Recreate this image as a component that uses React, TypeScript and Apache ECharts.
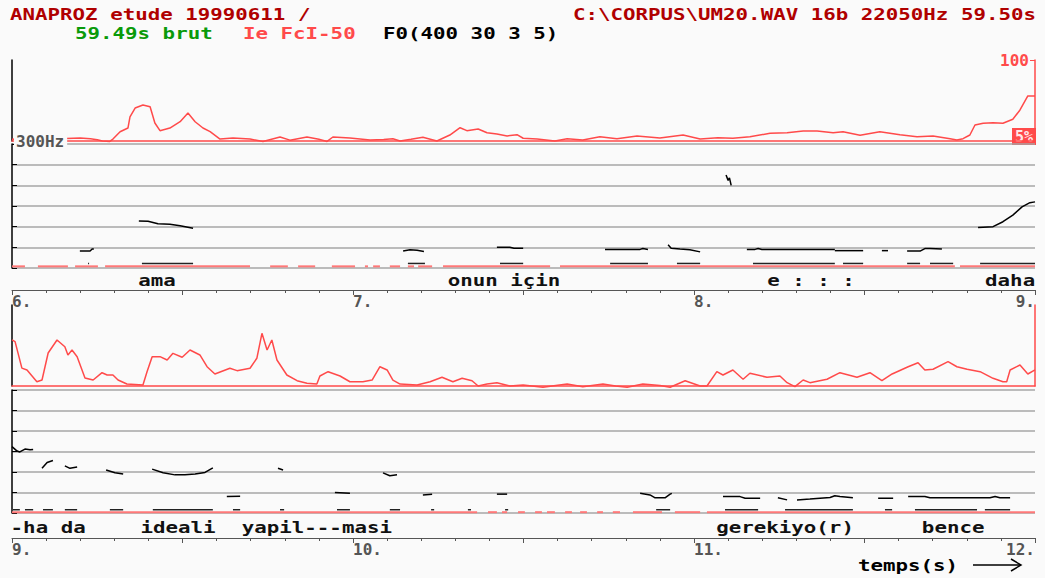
import React, { useEffect, useRef } from 'react';
import * as echarts from 'echarts';

type Pt = [number, number];

// ---------- texts ----------
const TITLE_LEFT = 'ANAPROZ etude 19990611 /';
const TITLE_RIGHT = 'C:\\CORPUS\\UM20.WAV 16b 22050Hz 59.50s';
const SUB_DURATION = '59.49s brut';
const SUB_INTENSITY = 'Ie FcI-50';
const SUB_F0 = 'F0(400 30 3 5)';
const AXIS_TITLE = 'temps(s)';
const F0_LABEL = '300Hz';
const INT_MAX_LABEL = '100';
const INT_MIN_LABEL = '5%';

// ---------- scales ----------
const TOP_SPAN: Pt = [6, 9];
const BOTTOM_SPAN: Pt = [9, 12];
const INTENSITY_RANGE: Pt = [5, 100];
const F0_RANGE: Pt = [0, 300];
const F0_STEP = 50;
const TIME_STEP = 0.5;

// ---------- intensity (%), [time s, value] ----------
const topIntensity: Pt[] = [
  [6.0, 7.0], [6.04, 7.5], [6.08, 8.0], [6.12, 9.0], [6.16, 8.0], [6.2, 8.5], [6.23, 7.5], [6.25, 6.5],
  [6.265, 5.0], [6.287, 4.5], [6.296, 7.3], [6.317, 15.9], [6.34, 20.2], [6.346, 33.2], [6.361, 43.7],
  [6.384, 47.2], [6.405, 45.2], [6.419, 26.1], [6.434, 17.1], [6.463, 20.2], [6.493, 27.6], [6.516, 37.8],
  [6.537, 27.6], [6.56, 20.2], [6.581, 15.9], [6.61, 7.3], [6.648, 8.5], [6.698, 7.3], [6.736, 4.5],
  [6.786, 9.7], [6.815, 6.0], [6.865, 9.7], [6.9, 7.0], [6.924, 4.5], [6.941, 9.7], [6.991, 8.5],
  [7.05, 6.2], [7.09, 6.8], [7.117, 7.7], [7.138, 5.0], [7.17, 7.0], [7.205, 9.3], [7.246, 5.0],
  [7.284, 12.0], [7.314, 20.6], [7.334, 17.1], [7.367, 19.1], [7.393, 14.7], [7.422, 13.2], [7.452, 10.9],
  [7.481, 12.4], [7.499, 8.2], [7.54, 7.3], [7.592, 5.0], [7.628, 7.7], [7.674, 6.2], [7.724, 10.0],
  [7.774, 7.7], [7.833, 10.9], [7.9, 8.5], [7.968, 12.0], [8.018, 7.3], [8.07, 8.8], [8.114, 8.2],
  [8.164, 10.0], [8.223, 14.0], [8.273, 14.7], [8.32, 16.7], [8.361, 16.7], [8.408, 14.7], [8.437, 15.9],
  [8.487, 11.7], [8.545, 15.9], [8.604, 12.4], [8.654, 10.0], [8.701, 10.9], [8.751, 7.7], [8.771, 6.2],
  [8.789, 7.7], [8.809, 12.0], [8.824, 23.8], [8.848, 25.8], [8.877, 26.5], [8.906, 25.8], [8.935, 30.5],
  [8.956, 41.4], [8.979, 57.8], [9.0, 57.8],
];

const bottomIntensity: Pt[] = [
  [9.0, 59.0], [9.009, 57.0], [9.029, 26.0], [9.044, 23.8], [9.073, 10.0], [9.088, 12.0], [9.106, 43.7],
  [9.132, 59.0], [9.155, 51.0], [9.164, 41.4], [9.176, 47.2], [9.191, 39.4], [9.214, 14.4], [9.238, 12.0],
  [9.264, 20.6], [9.279, 17.9], [9.296, 17.9], [9.311, 12.0], [9.337, 7.3], [9.384, 6.2], [9.396, 21.8],
  [9.411, 39.4], [9.434, 39.4], [9.455, 35.5], [9.472, 43.3], [9.499, 38.7], [9.522, 47.2], [9.551, 41.4],
  [9.572, 27.6], [9.595, 19.1], [9.639, 25.8], [9.66, 23.0], [9.698, 25.8], [9.718, 37.5], [9.733, 66.8],
  [9.748, 47.2], [9.762, 59.0], [9.777, 35.5], [9.806, 17.9], [9.836, 11.2], [9.865, 8.2], [9.894, 7.3],
  [9.903, 16.7], [9.927, 21.8], [9.962, 16.7], [9.991, 10.0], [10.029, 10.0], [10.056, 12.0], [10.079, 27.6],
  [10.1, 23.8], [10.117, 12.0], [10.138, 7.3], [10.188, 6.2], [10.226, 10.0], [10.261, 15.2], [10.293, 10.0],
  [10.32, 14.0], [10.349, 11.2], [10.367, 5.0], [10.393, 7.3], [10.422, 8.9], [10.46, 5.0], [10.499, 6.2],
  [10.557, 3.5], [10.6, 6.0], [10.628, 7.3], [10.674, 4.2], [10.733, 7.3], [10.77, 5.0], [10.804, 3.5],
  [10.85, 7.3], [10.9, 5.5], [10.93, 3.5], [10.974, 11.2], [11.018, 5.0], [11.038, 5.0], [11.067, 21.8],
  [11.085, 17.9], [11.114, 23.8], [11.144, 12.9], [11.164, 19.9], [11.214, 15.2], [11.252, 16.7],
  [11.273, 8.9], [11.296, 4.2], [11.32, 12.0], [11.34, 8.9], [11.39, 12.9], [11.428, 20.6], [11.478, 15.2],
  [11.516, 20.6], [11.551, 11.2], [11.581, 19.1], [11.628, 27.6], [11.657, 32.3], [11.677, 23.8],
  [11.701, 24.6], [11.745, 33.5], [11.771, 27.6], [11.801, 24.6], [11.839, 21.8], [11.877, 14.0],
  [11.906, 10.0], [11.917, 10.0], [11.927, 23.8], [11.956, 29.6], [11.979, 19.1], [12.0, 23.8],
];

// ---------- F0 (Hz) segments, [time s, Hz] ----------
const topF0Segments: Pt[][] = [
  [[6.199, 41], [6.229, 41], [6.235, 46], [6.24, 46]],
  [[6.372, 114], [6.399, 113], [6.428, 107], [6.463, 106], [6.493, 102], [6.531, 96]],
  [[7.147, 41], [7.167, 44], [7.188, 43], [7.208, 40]],
  [[7.422, 50], [7.46, 50], [7.472, 48], [7.499, 48]],
  [[7.739, 45], [7.842, 45], [7.85, 47], [7.865, 45]],
  [[7.924, 56], [7.933, 48], [7.959, 46], [7.988, 44], [8.018, 39]],
  [[8.094, 225], [8.1, 212], [8.104, 218], [8.109, 200]],
  [[8.155, 45], [8.179, 45], [8.188, 47], [8.199, 45], [8.413, 45]],
  [[8.413, 42], [8.496, 42]],
  [[8.551, 42], [8.569, 42]],
  [[8.625, 41], [8.663, 41], [8.677, 47], [8.692, 47], [8.727, 46]],
  [[8.833, 98], [8.877, 100], [8.906, 112], [8.935, 128], [8.962, 148], [8.985, 158], [9.0, 160]],
];

const bottomF0Segments: Pt[][] = [
  [[9.0, 162], [9.015, 151], [9.023, 149], [9.038, 156], [9.053, 154], [9.062, 155]],
  [[9.088, 109], [9.103, 123], [9.12, 128]],
  [[9.155, 115], [9.17, 109], [9.191, 112]],
  [[9.276, 105], [9.302, 98], [9.326, 95]],
  [[9.411, 107], [9.443, 98], [9.478, 93], [9.507, 93], [9.537, 95], [9.566, 99], [9.589, 110]],
  [[9.63, 40], [9.669, 41]],
  [[9.78, 109], [9.795, 105]],
  [[9.947, 50], [9.991, 48]],
  [[10.088, 98], [10.108, 91], [10.129, 93]],
  [[10.205, 44], [10.232, 46]],
  [[10.422, 46], [10.452, 46]],
  [[10.842, 48], [10.871, 44], [10.886, 37], [10.915, 37], [10.93, 46], [10.935, 48]],
  [[11.085, 40], [11.135, 40], [11.15, 36], [11.194, 36]],
  [[11.246, 37], [11.273, 32]],
  [[11.302, 32], [11.34, 34], [11.399, 38], [11.413, 42], [11.428, 40], [11.466, 37]],
  [[11.54, 36], [11.584, 36]],
  [[11.628, 40], [11.677, 40], [11.692, 37], [11.868, 37], [11.883, 40], [11.897, 37], [11.927, 37]],
];

// ---------- low secondary trace: [start s, end s] at a fixed level (Hz) ----------
const TOP_LOW_TRACE_HZ = 11;
const BOTTOM_LOW_TRACE_HZ = 8;
const topLowTrace: Pt[] = [
  [6.223, 6.226], [6.238, 6.24], [6.381, 6.531], [7.161, 7.211], [7.431, 7.499], [7.754, 7.865],
  [7.95, 8.018], [8.173, 8.413], [8.437, 8.496], [8.625, 8.663], [8.692, 8.76], [8.839, 9.0],
];
const bottomLowTrace: Pt[] = [
  [9.003, 9.023], [9.038, 9.062], [9.091, 9.12], [9.155, 9.191], [9.287, 9.326], [9.413, 9.589],
  [9.648, 9.669], [9.786, 9.798], [9.953, 9.991], [10.108, 10.138], [10.229, 10.238], [10.337, 10.346],
  [10.446, 10.455], [10.889, 10.93], [11.091, 11.188], [11.267, 11.466], [11.56, 11.581], [11.648, 11.83],
  [11.853, 11.927],
];

// ---------- voicing marks: [start s, end s] at a fixed level (Hz) ----------
const TOP_VOICING_HZ = 4;
const BOTTOM_VOICING_HZ = 2;
const topVoicing: Pt[] = [
  [6.0, 6.038], [6.076, 6.164], [6.185, 6.252], [6.273, 6.698], [6.757, 6.809], [6.839, 6.889],
  [6.938, 7.006], [7.035, 7.044], [7.059, 7.079], [7.108, 7.138], [7.161, 7.179], [7.191, 7.232],
  [7.264, 7.578], [7.607, 8.765], [8.78, 9.0],
];
const bottomVoicing: Pt[] = [
  [9.0, 10.364], [10.396, 10.422], [10.437, 10.452], [10.484, 10.504], [10.534, 10.554], [10.569, 10.592],
  [10.622, 10.642], [10.666, 10.686], [10.716, 10.733], [10.762, 10.783], [10.821, 10.906],
  [10.944, 11.018], [11.038, 12.0],
];

// ---------- transcription ----------
const topWords = [
  { t: 6.425, text: 'ama' },
  { t: 7.443, text: 'onun için' },
  { t: 8.343, text: 'e : : :' },
  { t: 8.927, text: 'daha' },
];
const bottomWords = [
  { t: 9.106, text: '-ha da' },
  { t: 9.487, text: 'ideali' },
  { t: 9.894, text: 'yapil---masi' },
  { t: 11.267, text: 'gerekiyo(r)' },
  { t: 11.76, text: 'bence' },
];

// ---------- styling ----------
const BG = '#fafafa';
const RED = '#ff4a4a';
const VOICE_RED = '#ff7878';
const DARK_RED = '#b00000';
const GREEN = '#0a9a0a';
const GRID_GRAY = '#a6a6a6';
const AXIS_GRAY = '#555555';
const FONT_FAMILY = '"DejaVu Sans Mono", "Liberation Mono", monospace';
const FONT = `bold 16px ${FONT_FAMILY}`;
const SX = 1.3;
const L = 12;
const W = 1023;

function lineSeries(data: Pt[], xi: number, yi: number, color: string, width: number, z: number) {
  return {
    type: 'line',
    xAxisIndex: xi,
    yAxisIndex: yi,
    data,
    symbol: 'none',
    silent: true,
    clip: false,
    z,
    lineStyle: { color, width },
  };
}

function rangesToSegments(ranges: Pt[], level: number): Pt[][] {
  return ranges.map(([a, b]) => [[a, level], [b, level]] as Pt[]);
}

function wordSeries(words: { t: number; text: string }[], xi: number, yi: number) {
  return {
    type: 'custom',
    xAxisIndex: xi,
    yAxisIndex: yi,
    silent: true,
    z: 3,
    data: words.map((w) => [w.t, 0.5]),
    renderItem: (params: any, api: any) => {
      const p = api.coord([api.value(0), api.value(1)]);
      const w = words[params.dataIndex];
      return {
        type: 'text',
        x: p[0],
        y: p[1],
        scaleX: SX,
        style: { text: w.text, font: FONT, fill: '#111', align: 'center', verticalAlign: 'middle' },
      };
    },
  };
}

function baselineX(gridIndex: number, span: Pt) {
  return {
    type: 'value', gridIndex, min: span[0], max: span[1],
    axisLine: { show: true, onZero: false, lineStyle: { color: RED, width: 1.5 } },
    axisTick: { show: false }, axisLabel: { show: false }, splitLine: { show: false },
  };
}
function hiddenX(gridIndex: number, span: Pt) {
  return { type: 'value', gridIndex, min: span[0], max: span[1], show: false };
}
function timeX(gridIndex: number, span: Pt, offset: number) {
  return {
    type: 'value', gridIndex, min: span[0], max: span[1], interval: TIME_STEP, position: 'bottom', offset,
    axisLine: { show: true, onZero: false, lineStyle: { color: AXIS_GRAY, width: 1 } },
    axisTick: { show: true, length: 5, lineStyle: { color: AXIS_GRAY } },
    minorTick: { show: true, splitNumber: 5, length: 3, lineStyle: { color: AXIS_GRAY } },
    axisLabel: {
      show: true, interval: 0,
      formatter: (v: number) => (Number.isInteger(v) ? `${v}.` : ''),
      color: AXIS_GRAY, fontFamily: FONT_FAMILY, fontWeight: 'bold', fontSize: 16, margin: 3,
      align: 'left', alignMaxLabel: 'right',
    },
    splitLine: { show: false }, minorSplitLine: { show: false },
  };
}
function intensityLeftY(gridIndex: number) {
  return {
    type: 'value', gridIndex, min: INTENSITY_RANGE[0], max: INTENSITY_RANGE[1], position: 'left',
    axisLine: { show: true, onZero: false, lineStyle: { color: '#000', width: 1.5 } },
    axisTick: { show: false }, axisLabel: { show: false }, splitLine: { show: false },
  };
}
function intensityRightY(gridIndex: number, withLabel: boolean) {
  return {
    type: 'value', gridIndex, min: INTENSITY_RANGE[0], max: INTENSITY_RANGE[1], position: 'right',
    axisLine: { show: true, onZero: false, lineStyle: { color: RED, width: 1.5 } },
    axisTick: withLabel
      ? { show: true, inside: true, length: 5, customValues: [INTENSITY_RANGE[1]], lineStyle: { color: RED } }
      : { show: false },
    axisLabel: withLabel
      ? {
          show: true, inside: true, customValues: [INTENSITY_RANGE[1]], formatter: () => INT_MAX_LABEL,
          color: RED, fontFamily: FONT_FAMILY, fontWeight: 'bold', fontSize: 16, margin: 6,
        }
      : { show: false },
    splitLine: { show: false },
  };
}
function f0Y(gridIndex: number) {
  return {
    type: 'value', gridIndex, min: F0_RANGE[0], max: F0_RANGE[1], interval: F0_STEP, position: 'left', z: 2,
    axisLine: { show: true, onZero: false, lineStyle: { color: '#000', width: 1.5 } },
    axisTick: { show: true, inside: true, length: 5, lineStyle: { color: '#000' } },
    axisLabel: { show: false },
    splitLine: { show: true, lineStyle: { color: GRID_GRAY, width: 1.5 } },
  };
}
function hiddenY(gridIndex: number) {
  return { type: 'value', gridIndex, min: 0, max: 1, show: false };
}

export default function App() {
  const ref = useRef<HTMLDivElement>(null);

  useEffect(() => {
    document.body.style.margin = '0';
    document.body.style.background = BG;
    if (!ref.current) return;
    const chart = echarts.init(ref.current, undefined, { renderer: 'svg' });

    const grids = [
      { top: 60, height: 81 },
      { top: 144, height: 124 },
      { top: 272, height: 16 },
      { top: 305, height: 81 },
      { top: 390, height: 123 },
      { top: 518, height: 18 },
    ].map((g) => ({ ...g, left: L, width: W, containLabel: false, outerBoundsMode: 'none' }));

    const series: any[] = [
      lineSeries(topIntensity, 0, 0, RED, 1.5, 1),
      lineSeries(bottomIntensity, 3, 4, RED, 1.5, 1),
      ...rangesToSegments(topVoicing, TOP_VOICING_HZ).map((d) => lineSeries(d, 1, 2, VOICE_RED, 2, 3)),
      ...rangesToSegments(bottomVoicing, BOTTOM_VOICING_HZ).map((d) => lineSeries(d, 4, 6, VOICE_RED, 2, 3)),
      ...rangesToSegments(topLowTrace, TOP_LOW_TRACE_HZ).map((d) => lineSeries(d, 1, 2, '#222', 1.5, 3)),
      ...rangesToSegments(bottomLowTrace, BOTTOM_LOW_TRACE_HZ).map((d) => lineSeries(d, 4, 6, '#222', 1.5, 3)),
      ...topF0Segments.map((d) => lineSeries(d, 1, 2, '#000', 1.5, 4)),
      ...bottomF0Segments.map((d) => lineSeries(d, 4, 6, '#000', 1.5, 4)),
      wordSeries(topWords, 2, 3),
      wordSeries(bottomWords, 5, 7),
    ];

    const text = (t: string, x: number, y: number, fill: string, align = 'left') => ({
      type: 'text', x, y, scaleX: SX, z: 10,
      style: { text: t, font: FONT, fill, align, verticalAlign: 'middle' },
    });

    chart.setOption({
      animation: false,
      backgroundColor: BG,
      grid: grids,
      xAxis: [
        baselineX(0, TOP_SPAN),
        timeX(1, TOP_SPAN, 22),
        hiddenX(2, TOP_SPAN),
        baselineX(3, BOTTOM_SPAN),
        timeX(4, BOTTOM_SPAN, 25),
        hiddenX(5, BOTTOM_SPAN),
      ],
      yAxis: [
        intensityLeftY(0),
        intensityRightY(0, true),
        f0Y(1),
        hiddenY(2),
        intensityLeftY(3),
        intensityRightY(3, false),
        f0Y(4),
        hiddenY(5),
      ],
      series,
      graphic: [
        text(TITLE_LEFT, 10, 14, DARK_RED),
        text(TITLE_RIGHT, 1036, 14, DARK_RED, 'right'),
        text(SUB_DURATION, 75, 33, GREEN),
        text(SUB_INTENSITY, 243, 33, RED),
        text(SUB_F0, 383, 33, '#000'),
        {
          type: 'text', x: 14, y: 141, z: 10,
          style: {
            text: F0_LABEL, font: FONT, fill: AXIS_GRAY, align: 'left', verticalAlign: 'middle',
            backgroundColor: BG, padding: [1, 3, 2, 2],
          },
        },
        {
          type: 'group', z: 10,
          children: [
            { type: 'rect', shape: { x: 1012, y: 128, width: 24, height: 17 }, style: { fill: RED } },
            {
              type: 'text', x: 1024, y: 137,
              style: { text: INT_MIN_LABEL, font: `bold 15px ${FONT_FAMILY}`, fill: '#ffe8e8', align: 'center', verticalAlign: 'middle' },
            },
          ],
        },
        text(AXIS_TITLE, 858, 565, '#000'),
        { type: 'polyline', z: 10, shape: { points: [[973, 565], [1021, 565]] }, style: { stroke: '#000', lineWidth: 1.5, fill: null } },
        { type: 'polyline', z: 10, shape: { points: [[1011, 559], [1021, 565], [1011, 571]] }, style: { stroke: '#000', lineWidth: 1.5, fill: null } },
      ],
    });

    return () => chart.dispose();
  }, []);

  return <div ref={ref} style={{ width: 1045, height: 578 }} />;
}
